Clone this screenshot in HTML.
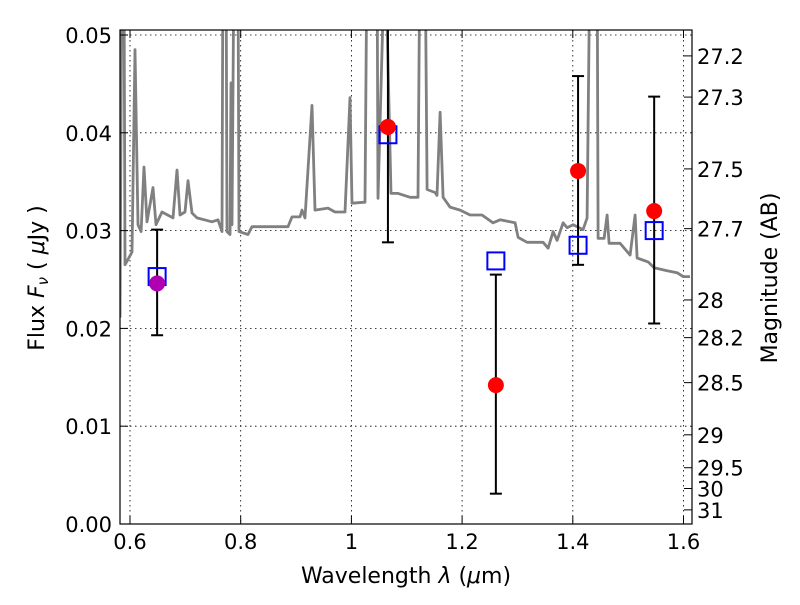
<!DOCTYPE html>
<html><head><meta charset="utf-8"><style>
html,body{margin:0;padding:0;background:#fff}
svg{font-family:"DejaVu Sans","Liberation Sans",sans-serif}
</style></head><body>
<svg id="chart" width="800" height="600" xmlns="http://www.w3.org/2000/svg">
<defs><clipPath id="clip"><rect x="120" y="30" width="572" height="494"/></clipPath></defs>
<rect x="0" y="0" width="800" height="600" fill="#fff"/>
<g id="grid"></g>
<g id="plot" clip-path="url(#clip)"></g>
<rect x="120" y="30" width="572" height="494" fill="none" stroke="#000" stroke-width="1.2"/>
<g id="axes"></g>
<text x="406" y="583" text-anchor="middle" font-size="22">Wavelength  <tspan font-style="italic">λ</tspan> (<tspan font-style="italic">μ</tspan>m)</text>
<text transform="translate(44,278) rotate(-90)" text-anchor="middle" font-size="22">Flux  <tspan font-style="italic">F<tspan font-size="15" dy="4">ν</tspan></tspan><tspan dy="-4">  (  </tspan><tspan font-style="italic">μ</tspan>Jy )</text>
<text transform="translate(777,278) rotate(-90)" text-anchor="middle" font-size="22">Magnitude (AB)</text>
</svg>
<script>
const specLam=[0.582,0.5855,0.589,0.591,0.6036,0.609,0.6145,0.620,0.6253,0.6307,0.6416,0.647,0.6578,0.6777,0.6849,0.6904,0.6994,0.7048,0.712,0.7211,0.7482,0.759,0.7662,0.768,0.7735,0.7753,0.7807,0.7825,0.7843,0.788,0.795,0.797,0.8132,0.8205,0.8385,0.8566,0.8855,0.8927,0.9072,0.9108,0.9162,0.9289,0.9343,0.9578,0.9704,0.9885,0.9975,1.0011,1.0246,1.0283,1.0463,1.0481,1.0608,1.0716,1.0843,1.106,1.1204,1.124,1.133,1.1367,1.1511,1.1547,1.1602,1.1656,1.1782,1.1963,1.2144,1.236,1.2559,1.2686,1.2957,1.3011,1.3174,1.3463,1.3553,1.3644,1.3716,1.3824,1.3897,1.4005,1.4186,1.4258,1.4312,1.4439,1.4457,1.4565,1.4619,1.4655,1.4854,1.5035,1.5125,1.5161,1.536,1.5468,1.5703,1.5884,1.5992,1.6118];
const specFlux=[0.0211,0.06,0.06,0.0265,0.0278,0.0485,0.0306,0.0299,0.0365,0.0309,0.0344,0.0306,0.0319,0.0313,0.0362,0.0316,0.0319,0.0351,0.0318,0.0313,0.0309,0.0311,0.0299,0.06,0.06,0.0299,0.0296,0.0451,0.0306,0.06,0.06,0.0299,0.0296,0.0304,0.0304,0.0304,0.0304,0.0314,0.0314,0.0321,0.0313,0.0428,0.0321,0.0323,0.0319,0.0319,0.0436,0.0328,0.0329,0.06,0.06,0.0333,0.06,0.0338,0.0338,0.0334,0.0334,0.06,0.06,0.0342,0.0339,0.0336,0.0421,0.0334,0.0324,0.0321,0.0316,0.0316,0.0308,0.0311,0.0308,0.0293,0.0288,0.0288,0.0282,0.0299,0.029,0.0308,0.0303,0.0306,0.0301,0.0313,0.06,0.06,0.0292,0.0292,0.0316,0.0287,0.0287,0.0275,0.0316,0.0272,0.0268,0.0262,0.0259,0.0257,0.0253,0.0253];
const bandLam=[0.649,1.066,1.261,1.4095,1.547];
const obsFlux=[0.0246,0.0406,0.0142,0.0361,0.0320];
const errLow=[0.0193,0.0288,0.0031,0.0265,0.0205];
const errHigh=[0.0301,0.056,0.0255,0.0458,0.0437];
const modelFlux=[0.0253,0.0398,0.0269,0.0285,0.0300];
const xTicks=[0.6,0.8,1.0,1.2,1.4,1.6];
const xTickLabels=["0.6","0.8","1","1.2","1.4","1.6"];
const yTicks=[0,0.01,0.02,0.03,0.04,0.05];
const yTickLabels=["0.00","0.01","0.02","0.03","0.04","0.05"];
const magTicks=[27.2,27.3,27.5,27.7,28,28.2,28.5,29,29.5,30,31];

const NS="http://www.w3.org/2000/svg";
const X=v=>130+(v-0.6)/0.2*110.7;
const Y=v=>524-v*9780;
function mk(parent,tag,attrs){const e=document.createElementNS(NS,tag);for(const k in attrs)e.setAttribute(k,attrs[k]);parent.appendChild(e);return e;}
const grid=document.getElementById('grid'),plot=document.getElementById('plot'),axes=document.getElementById('axes');

xTicks.forEach((t,i)=>{
  const gl=mk(grid,'line',{x1:X(t),x2:X(t),y1:30,y2:524,stroke:'#000','stroke-width':0.8,'stroke-dasharray':'1.5,3.5'});
  
  
  mk(axes,'line',{x1:X(t),x2:X(t),y1:524,y2:516,stroke:'#000'});
  mk(axes,'line',{x1:X(t),x2:X(t),y1:30,y2:38,stroke:'#000'});
  const tx=mk(axes,'text',{x:X(t),y:549,'text-anchor':'middle','font-size':21});
  tx.textContent=xTickLabels[i];
  
  
});
yTicks.forEach((t,i)=>{
  const gl=mk(grid,'line',{x1:120,x2:692,y1:Y(t),y2:Y(t),stroke:'#000','stroke-width':0.8,'stroke-dasharray':'1.5,3.5'});
  
  
  mk(axes,'line',{x1:120,x2:128,y1:Y(t),y2:Y(t),stroke:'#000'});
  const tx=mk(axes,'text',{x:112,y:Y(t)+8,'text-anchor':'end','font-size':21});
  tx.textContent=yTickLabels[i];
  
  
});
magTicks.forEach(m=>{
  const f=Math.pow(10,(23.9-m)/2.5);const y=Y(f);
  mk(axes,'line',{x1:684,x2:692,y1:y,y2:y,stroke:'#000'});
  const tx=mk(axes,'text',{x:697,y:y+8,'font-size':21});
  tx.textContent=String(m);
  
  
});

const d=specLam.map((l,i)=>(i?'L':'M')+X(l).toFixed(1)+','+Y(specFlux[i]).toFixed(1)).join(' ');
const sp=mk(plot,'path',{d:d,fill:'none',stroke:'#808080','stroke-width':2.8,'stroke-linejoin':'round'});



bandLam.forEach((l,i)=>{
  const x=X(l);
  const eb=mk(plot,'line',{x1:x,x2:x,y1:Y(errHigh[i]),y2:Y(errLow[i]),stroke:'#000','stroke-width':2});
  
  
  [errHigh[i],errLow[i]].forEach(v=>mk(plot,'line',{x1:x-6,x2:x+6,y1:Y(v),y2:Y(v),stroke:'#000','stroke-width':2}));
  const sq=mk(plot,'rect',{x:X(l)-8.5,y:Y(modelFlux[i])-8.5,width:17,height:17,fill:'none',stroke:'#0000ff','stroke-width':2});
  
  
  const c=mk(plot,'circle',{cx:x,cy:Y(obsFlux[i]),r:8,fill:i===0?'#b000b0':'#ff0000'});
  
  
});
</script>
</body></html>
